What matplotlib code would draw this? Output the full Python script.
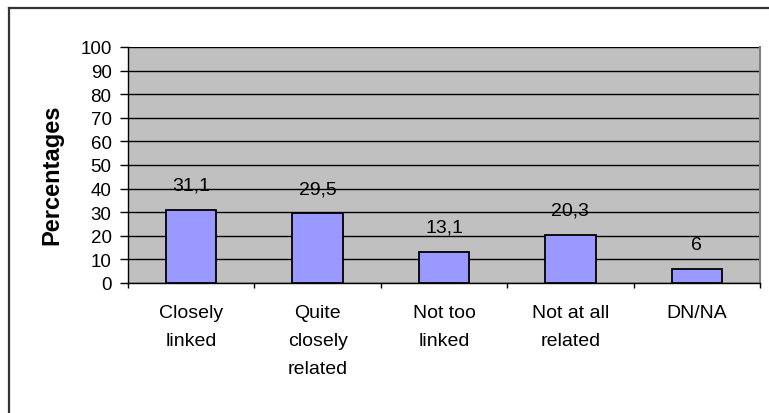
import matplotlib.pyplot as plt
from matplotlib.lines import Line2D

plt.rcParams['font.family'] = ['Liberation Sans', 'DejaVu Sans']

# survey answers (percentages)
categories = ['Closely\nlinked', 'Quite\nclosely\nrelated', 'Not too\nlinked',
              'Not at all\nrelated', 'DN/NA']
values = [31.1, 29.5, 13.1, 20.3, 6]
value_labels = ['31,1', '29,5', '13,1', '20,3', '6']

fig = plt.figure(figsize=(7.69, 4.14), dpi=100)
fig.patch.set_facecolor('white')

# outer chart frame (only top/left edges fall inside the image)
fig.add_artist(Line2D([8.5 / 769, 8.5 / 769], [0, 1 - 8.5 / 414],
                      transform=fig.transFigure, color='#333333', lw=1.6))
fig.add_artist(Line2D([8.5 / 769, 1], [1 - 8.5 / 414, 1 - 8.5 / 414],
                      transform=fig.transFigure, color='#333333', lw=1.6))

ax = fig.add_axes([128 / 769, 130 / 414, 632 / 769, 236 / 414])
ax.set_facecolor('#c0c0c0')

x = range(len(categories))
bars = ax.bar(x, values, width=0.4, color='#9999ff', edgecolor='black',
              linewidth=1.3, zorder=3)

for i, v in enumerate(values):
    ax.annotate(value_labels[i], (i, v), xytext=(0, 14.5), textcoords='offset points',
                ha='center', va='baseline', fontsize=14)

ax.set_xlim(-0.5, len(categories) - 0.5)
ax.set_ylim(0, 100)
ax.set_yticks(range(0, 101, 10))
ax.yaxis.grid(True, color='black', linewidth=1)
ax.set_axisbelow(True)

ax.set_xticks([i - 0.5 for i in range(len(categories) + 1)])
ax.set_xticklabels([])
ax.set_xticks(list(x), minor=True)
ax.set_xticklabels(categories, minor=True, fontsize=14, linespacing=1.85, va='top')
ax.tick_params(axis='x', which='minor', length=0, pad=15)
ax.tick_params(axis='x', which='major', length=3.6, direction='out', width=1)
ax.tick_params(axis='y', length=5.8, direction='out', width=1, labelsize=13.5, pad=6)

for s in ['left', 'bottom']:
    ax.spines[s].set_color('black')
    ax.spines[s].set_linewidth(1)
ax.spines['top'].set_visible(False)
ax.spines['right'].set_color('#808080')
ax.spines['right'].set_linewidth(1.5)

ax.set_ylabel('Percentages', fontsize=17, fontweight='bold')
ax.yaxis.set_label_coords(-0.103, 0.462)

fig.savefig('out.png', dpi=100)
